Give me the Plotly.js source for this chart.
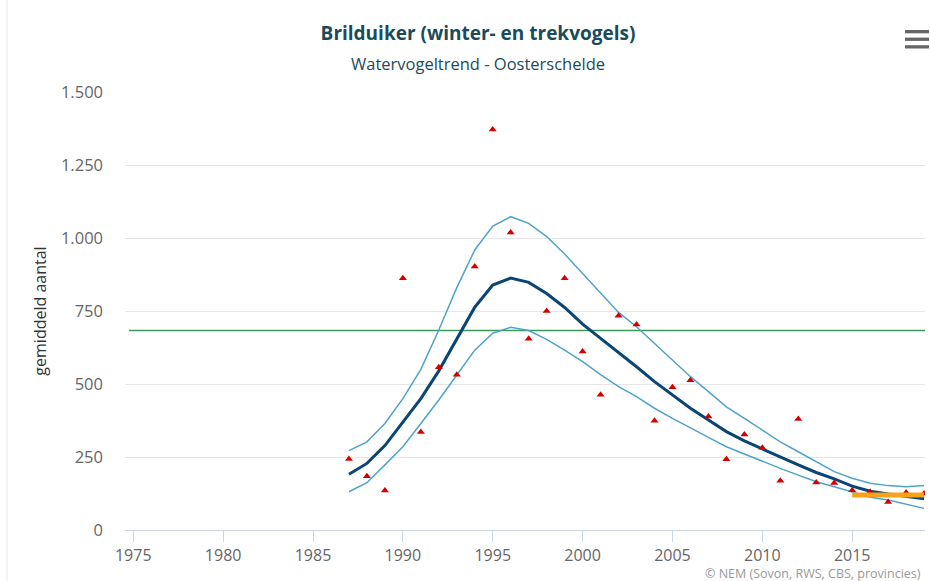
<!DOCTYPE html>
<html>
<head>
<meta charset="utf-8">
<script src="https://cdn.plot.ly/plotly-3.0.1.min.js"></script>
<style>
  html, body { margin: 0; padding: 0; background: #fff; }
  #chart { width: 930px; height: 581px; }
</style>
</head>
<body>
<div id="chart"></div>
<script>
// ---- data ----
const years = [1987,1988,1989,1990,1991,1992,1993,1994,1995,1996,1997,1998,1999,2000,2001,2002,2003,2004,2005,2006,2007,2008,2009,2010,2011,2012,2013,2014,2015,2016,2017,2018,2019];
const counts = [243,184,135,862,336,557,532,902,1372,1019,655,750,862,611,463,734,704,374,489,513,389,242,327,282,169,380,163,161,136,131,96,128,125];
const trend = [191,228,289,370,450,545,655,763,839,863,848,810,762,705,656,609,559,508,462,417,377,337,305,277,249,223,197,175,150,133,123,115,107];
const upper = [272,302,365,450,550,685,830,959,1041,1073,1050,1005,945,879,812,745,696,639,582,525,474,422,382,342,302,268,234,200,177,160,152,148,152];
const lower = [131,162,223,285,365,445,531,616,674,694,683,653,616,577,532,491,457,417,382,348,317,285,260,234,211,188,165,148,129,112,103,89,74];
const recentYears = [2015, 2019];
const recentLevel = [120, 120];
const referenceLevel = 683;
const xTicks = [1975,1980,1985,1990,1995,2000,2005,2010,2015];
const yTicks = [0,250,500,750,1000,1250,1500];

const W = 930, H = 581;
const mL = 125, mR = 5, mT = 92, mB = 51;
const pw = W - mL - mR, ph = H - mT - mB;
const px = v => (v - mL) / pw;          // container px -> paper x
const py = v => (H - mB - v) / ph;      // container px -> paper y

const traces = [
  { x: years, y: upper, type: 'scatter', mode: 'lines', line: {color: '#4fa3c9', width: 1.5}, hoverinfo: 'x+y', showlegend: false },
  { x: years, y: lower, type: 'scatter', mode: 'lines', line: {color: '#4fa3c9', width: 1.5}, hoverinfo: 'x+y', showlegend: false },
  { x: years, y: trend, type: 'scatter', mode: 'lines', line: {color: '#0a4675', width: 3}, hoverinfo: 'x+y', showlegend: false },
  { x: years, y: counts, type: 'scatter', mode: 'markers', marker: {symbol: 'triangle-up', size: 7, color: '#d40000'}, hoverinfo: 'x+y', showlegend: false },
  { x: recentYears, y: recentLevel, type: 'scatter', mode: 'lines', line: {color: '#f7a21b', width: 5}, hoverinfo: 'x+y', showlegend: false }
];

const shapes = [
  { type: 'line', xref: 'paper', yref: 'y', x0: 0.005, x1: 1, y0: referenceLevel, y1: referenceLevel, line: {color: '#3a9a5c', width: 1.5}, layer: 'below' },
  { type: 'line', xref: 'paper', yref: 'paper', x0: px(7), x1: px(7), y0: py(0), y1: py(581), line: {color: '#e6e6e6', width: 1} },
  { type: 'rect', xref: 'paper', yref: 'paper', x0: px(905), x1: px(929), y0: py(30), y1: py(33.3), fillcolor: '#666', line: {width: 0} },
  { type: 'rect', xref: 'paper', yref: 'paper', x0: px(905), x1: px(929), y0: py(37.6), y1: py(40.9), fillcolor: '#666', line: {width: 0} },
  { type: 'rect', xref: 'paper', yref: 'paper', x0: px(905), x1: px(929), y0: py(45.2), y1: py(48.5), fillcolor: '#666', line: {width: 0} }
];

const layout = {
  width: W, height: H,
  margin: {l: mL, r: mR, t: mT, b: mB, pad: 0},
  paper_bgcolor: '#fff', plot_bgcolor: '#fff',
  separators: ',.',
  font: {family: 'Open Sans, sans-serif', color: '#666'},
  title: {
    text: '<b>Brilduiker (winter- en trekvogels)</b>',
    font: {family: 'Open Sans, sans-serif', size: 19, color: '#1b4b5a'},
    xref: 'container', yref: 'container', x: 478 / W, y: 1 - 33 / H, xanchor: 'center', yanchor: 'middle'
  },
  annotations: [
    { text: 'Watervogeltrend - Oosterschelde', xref: 'paper', yref: 'paper', x: px(478), y: py(63), xanchor: 'center', yanchor: 'middle', showarrow: false,
      font: {family: 'Open Sans, sans-serif', size: 16.5, color: '#1b4b5a', weight: 500} },
    { text: '© NEM (Sovon, RWS, CBS, provincies)', xref: 'paper', yref: 'paper', x: px(703), y: py(573), xanchor: 'left', yanchor: 'middle', showarrow: false,
      font: {family: 'Open Sans, sans-serif', size: 12.5, color: '#999'} }
  ],
  xaxis: {
    range: [1974.54, 2019.05],
    tickvals: xTicks, ticktext: xTicks.map(String),
    showgrid: false, zeroline: false,
    showline: true, linecolor: '#ccd6eb', linewidth: 1,
    ticks: 'outside', ticklen: 11, tickcolor: '#ccd6eb', tickwidth: 1,
    tickfont: {size: 16, color: '#666'}
  },
  yaxis: {
    range: [0, 1500],
    tickvals: yTicks, tickformat: ',d',
    showgrid: true, gridcolor: '#e6e6e6', gridwidth: 1,
    zeroline: false, showline: false, ticks: '',
    ticklabelstandoff: 21,
    tickfont: {size: 16.5, color: '#666'},
    title: {text: 'gemiddeld aantal', font: {size: 16, color: '#333'}, standoff: 10}
  },
  shapes: shapes,
  showlegend: false
};

Plotly.newPlot('chart', traces, layout, {displayModeBar: false, staticPlot: false});
</script>
</body>
</html>
